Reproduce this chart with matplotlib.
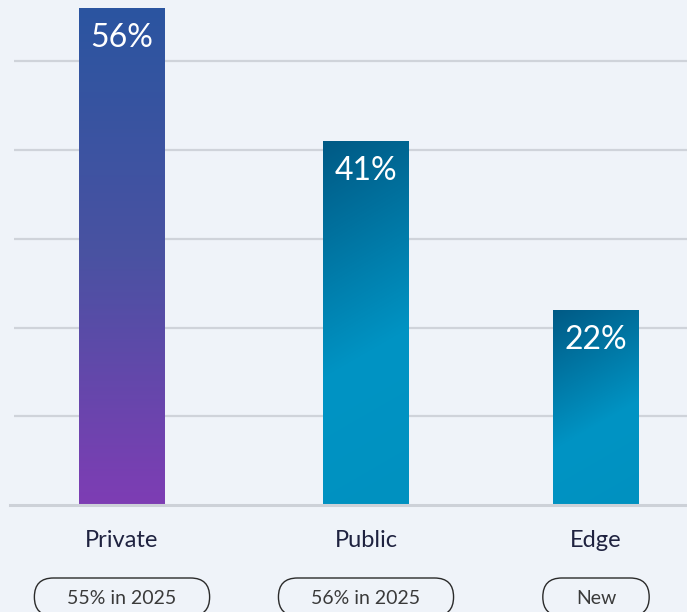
import numpy as np
import matplotlib
matplotlib.use("Agg")
import matplotlib.pyplot as plt
import matplotlib.colors as mcolors
import matplotlib.transforms as mtransforms
from matplotlib.patches import FancyBboxPatch

plt.rcParams['font.family'] = ['Lato', 'DejaVu Sans']

categories = ['Private', 'Public', 'Edge']
shares = [56, 41, 22]
value_labels = ['56%', '41%', '22%']
notes = ['55% in 2025', '56% in 2025', 'New']

bg = '#eff3f9'
W, H = 687, 612
px_per_unit = 8.875          # pixels per percentage point
slot_x = [122, 366, 596]      # bar centres, in pixels
bar_w = 86

fig = plt.figure(figsize=(W / 100, H / 100), dpi=100, facecolor=bg)
ax = fig.add_axes([14 / W, 107 / H, 1 - 14 / W, 505 / H])
ax.set_facecolor(bg)
ax.set_xlim(14, W)
ax.set_ylim(0, 505 / px_per_unit)

for g in [10, 20, 30, 40, 50]:
    ax.axhline(g, color='#cfd3da', lw=1.6, zorder=1)
ax.plot([10, W], [0, 0], color='#cdd1d8', lw=2.2, clip_on=False, zorder=4)

purple = mcolors.LinearSegmentedColormap.from_list('p', ['#2b55a0', '#4a52a2', '#7e3db4'])
teal = mcolors.LinearSegmentedColormap.from_list(
    't', [(0, '#005a85'), (0.58, '#0094c4'), (1, '#0091c0')])

# 150deg css-like gradient direction (down-right)
dx, dy = 0.5, 0.866

bars = ax.bar(slot_x, shares, width=bar_w, color='none', zorder=2)
for i, (b, v) in enumerate(zip(bars, shares)):
    x0 = b.get_x()
    hpx = int(round(v * px_per_unit))
    u = np.arange(bar_w)[None, :]
    w = np.arange(hpx)[:, None]
    if i == 0:
        t = np.repeat(w / hpx, bar_w, axis=1)
        cmap = purple
    else:
        L = dx * bar_w + dy * hpx
        t = np.clip((dx * u + dy * w) / L, 0, 1)
        cmap = teal
    im = ax.imshow(t, cmap=cmap, vmin=0, vmax=1, aspect='auto',
                   extent=[x0, x0 + bar_w, 0, v], origin='upper',
                   zorder=3, interpolation='bilinear')
    im.set_clip_path(b)
    ax.annotate(value_labels[i], (slot_x[i], v), xytext=(0, -39 * 0.72),
                textcoords='offset points', ha='center', va='baseline',
                color='white', fontsize=23, zorder=5)

ax.set_xticks([])
ax.set_yticks([])
for s in ax.spines.values():
    s.set_visible(False)

# category names and pill notes below the axis
note_texts = []
for i in range(3):
    fx = slot_x[i] / W
    fig.text(fx, (H - 547) / H, categories[i], ha='center',
             va='baseline', fontsize=17, color='#1f2240')
    note_texts.append(fig.text(fx, (H - 604) / H, notes[i], ha='center',
                               va='baseline', fontsize=14, color='#3a3a3a'))

fig.canvas.draw()
r = fig.canvas.get_renderer()
for t in note_texts:
    bb = t.get_window_extent(renderer=r)
    pad = 33
    pill = FancyBboxPatch((bb.x0 - pad, H - 616), bb.width + 2 * pad, 38,
                          boxstyle='round,pad=0,rounding_size=19',
                          transform=mtransforms.IdentityTransform(),
                          facecolor='none', edgecolor='#2a2a2a', lw=1.0)
    fig.add_artist(pill)

fig.savefig('out.png', dpi=100, facecolor=bg)
